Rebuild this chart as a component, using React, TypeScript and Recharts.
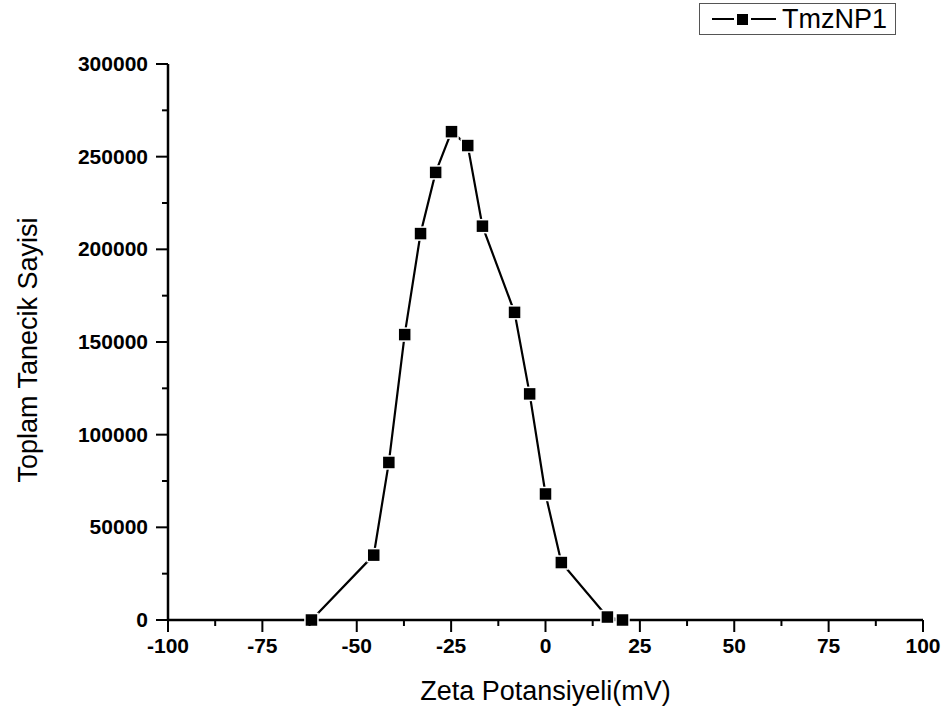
import React from 'react';
import { LineChart, Line, XAxis, YAxis, Legend } from 'recharts';

// zeta potential (mV) vs total particle count
const zeta = [-62, -45.5, -41.5, -37.3, -33.1, -29.1, -24.9, -20.6, -16.7, -8.2, -4.2, 0, 4.2, 16.4, 20.4];
const counts = [0, 35000, 85000, 154000, 208500, 241500, 263500, 256000, 212500, 166000, 122000, 68000, 31000, 1600, 0];

const xTicks = [-100, -87.5, -75, -62.5, -50, -37.5, -25, -12.5, 0, 12.5, 25, 37.5, 50, 62.5, 75, 87.5, 100];
const yTicks = [0, 25000, 50000, 75000, 100000, 125000, 150000, 175000, 200000, 225000, 250000, 275000, 300000];

const seriesName = 'TmzNP1';
const xTitle = 'Zeta Potansiyeli(mV)';
const yTitle = 'Toplam Tanecik Sayisi';

const data = zeta.map((z, i) => ({ zeta: z, count: counts[i] }));

const FONT = '"Liberation Sans", Arial, sans-serif';

const XTick = (props: any) => {
  const { x, y, payload } = props;
  const major = payload.value % 25 === 0;
  return (
    <g>
      <line x1={x} y1={y} x2={x} y2={y + (major ? 12 : 6)} stroke="#000" strokeWidth={2} />
      {major && (
        <text x={x} y={y + 33} textAnchor="middle" fontFamily={FONT} fontSize={21} fontWeight="bold" fill="#000">
          {payload.value}
        </text>
      )}
    </g>
  );
};

const YTick = (props: any) => {
  const { x, y, payload } = props;
  const major = payload.value % 50000 === 0;
  return (
    <g>
      <line x1={x - (major ? 12 : 6)} y1={y} x2={x} y2={y} stroke="#000" strokeWidth={2} />
      {major && (
        <text x={x - 20} y={y + 7} textAnchor="end" fontFamily={FONT} fontSize={21} fontWeight="bold" fill="#000">
          {payload.value}
        </text>
      )}
    </g>
  );
};

const SquareDot = (props: any) => {
  const { cx, cy, index } = props;
  if (cx == null || cy == null) return null;
  return <rect key={index} x={cx - 6.5} y={cy - 6.5} width={13} height={13} fill="#000" stroke="#fff" strokeWidth={1.5} />;
};

const LegendBox = () => (
  <div style={{ border: '1.5px solid #555', height: 32, display: 'flex', alignItems: 'center', boxSizing: 'border-box' }}>
    <svg width={82} height={30}>
      <line x1={12} y1={15} x2={34} y2={15} stroke="#000" strokeWidth={2} />
      <rect x={37} y={10} width={11} height={11} fill="#000" />
      <line x1={51} y1={15} x2={76} y2={15} stroke="#000" strokeWidth={2} />
    </svg>
    <span style={{ fontFamily: FONT, fontSize: 27, color: '#000', lineHeight: '30px' }}>{seriesName}</span>
  </div>
);

export default function App() {
  return (
    <div style={{ position: 'absolute', left: 0, top: 0, background: '#fff' }}>
      <LineChart width={944} height={715} data={data} margin={{ top: 64, right: 21, bottom: 0, left: 0 }}>
        <XAxis
          dataKey="zeta"
          type="number"
          domain={[-100, 100]}
          ticks={xTicks}
          interval={0}
          height={95}
          tickSize={0}
          tickMargin={0}
          tickLine={false}
          tick={<XTick />}
          axisLine={{ stroke: '#000', strokeWidth: 2.5 }}
          label={(p: any) => {
            const vb = p.viewBox;
            return (
              <text x={vb.x + vb.width / 2} y={vb.y + 80} textAnchor="middle" fontFamily={FONT} fontSize={27} fill="#000">
                {xTitle}
              </text>
            );
          }}
        />
        <YAxis
          type="number"
          domain={[0, 300000]}
          ticks={yTicks}
          interval={0}
          width={168}
          tickSize={0}
          tickMargin={0}
          tickLine={false}
          tick={<YTick />}
          axisLine={{ stroke: '#000', strokeWidth: 2.5 }}
          label={(p: any) => {
            const vb = p.viewBox;
            const cy = vb.y + vb.height / 2 + 8;
            return (
              <text x={37} y={cy} transform={`rotate(-90 37 ${cy})`} textAnchor="middle" fontFamily={FONT} fontSize={27} fill="#000">
                {yTitle}
              </text>
            );
          }}
        />
        <Legend
          layout="vertical"
          align="center"
          verticalAlign="middle"
          wrapperStyle={{ top: 3, left: 699, width: 197 }}
          content={() => <LegendBox />}
        />
        <Line
          type="linear"
          dataKey="count"
          name={seriesName}
          stroke="#000"
          strokeWidth={2.2}
          dot={<SquareDot />}
          activeDot={false}
          isAnimationActive={false}
        />
      </LineChart>
    </div>
  );
}
